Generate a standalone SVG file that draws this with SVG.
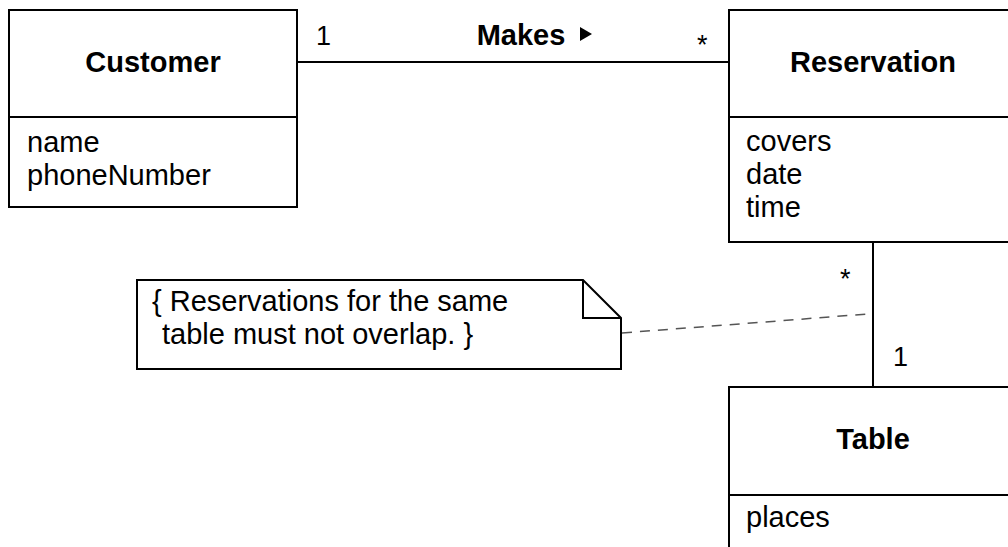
<svg xmlns="http://www.w3.org/2000/svg" width="1008" height="547" viewBox="0 0 1008 547">
  <style>
    .box { fill: #ffffff; stroke: #000000; stroke-width: 2; }
    .line { fill: none; stroke: #000000; stroke-width: 2; }
    .dash { fill: none; stroke: #555555; stroke-width: 1.5; stroke-dasharray: 10 8; }
    .title { font-family: "Liberation Sans", Arial, sans-serif; font-size: 29px; font-weight: bold; text-anchor: middle; fill: #000; }
    .attr { font-family: "Liberation Sans", Arial, sans-serif; font-size: 29px; fill: #000; }
    .mult { font-family: "Liberation Sans", Arial, sans-serif; font-size: 27px; fill: #000; }
  </style>
  <rect width="1008" height="547" fill="#ffffff"/>

  <g id="connectors">
    <line class="line" x1="297" y1="62" x2="729" y2="62"/>
    <line class="line" x1="873" y1="242" x2="873" y2="387"/>
    <line class="dash" x1="622" y1="333" x2="868" y2="314"/>
    <text class="mult" x="316" y="45">1</text>
    <text class="title" x="521" y="45">Makes</text>
    <polygon points="580,27 580,41 592,34" fill="#000"/>
    <text class="mult" x="697" y="54">*</text>
    <text class="mult" x="840" y="288">*</text>
    <text class="mult" x="893" y="366">1</text>
  </g>

  <g id="customer">
    <rect class="box" x="9" y="10" width="288" height="197"/>
    <line class="line" x1="9" y1="117" x2="297" y2="117"/>
    <text class="title" x="153" y="72">Customer</text>
    <text class="attr" x="27" y="152">name</text>
    <text class="attr" x="27" y="185">phoneNumber</text>
  </g>

  <g id="reservation">
    <rect class="box" x="729" y="10" width="290" height="232"/>
    <line class="line" x1="729" y1="117" x2="1019" y2="117"/>
    <text class="title" x="873" y="72">Reservation</text>
    <text class="attr" x="746" y="151">covers</text>
    <text class="attr" x="746" y="184">date</text>
    <text class="attr" x="746" y="217">time</text>
  </g>

  <g id="table">
    <rect class="box" x="729" y="387" width="290" height="180"/>
    <line class="line" x1="729" y1="495" x2="1019" y2="495"/>
    <text class="title" x="873" y="449">Table</text>
    <text class="attr" x="746" y="527">places</text>
  </g>

  <g id="note">
    <path class="box" d="M137,280 L583,280 L621,318 L621,369 L137,369 Z"/>
    <path class="line" d="M583,280 L583,318 L621,318"/>
    <text class="attr" x="152" y="311">{ Reservations for the same</text>
    <text class="attr" x="162" y="344">table must not overlap. }</text>
  </g>
</svg>
